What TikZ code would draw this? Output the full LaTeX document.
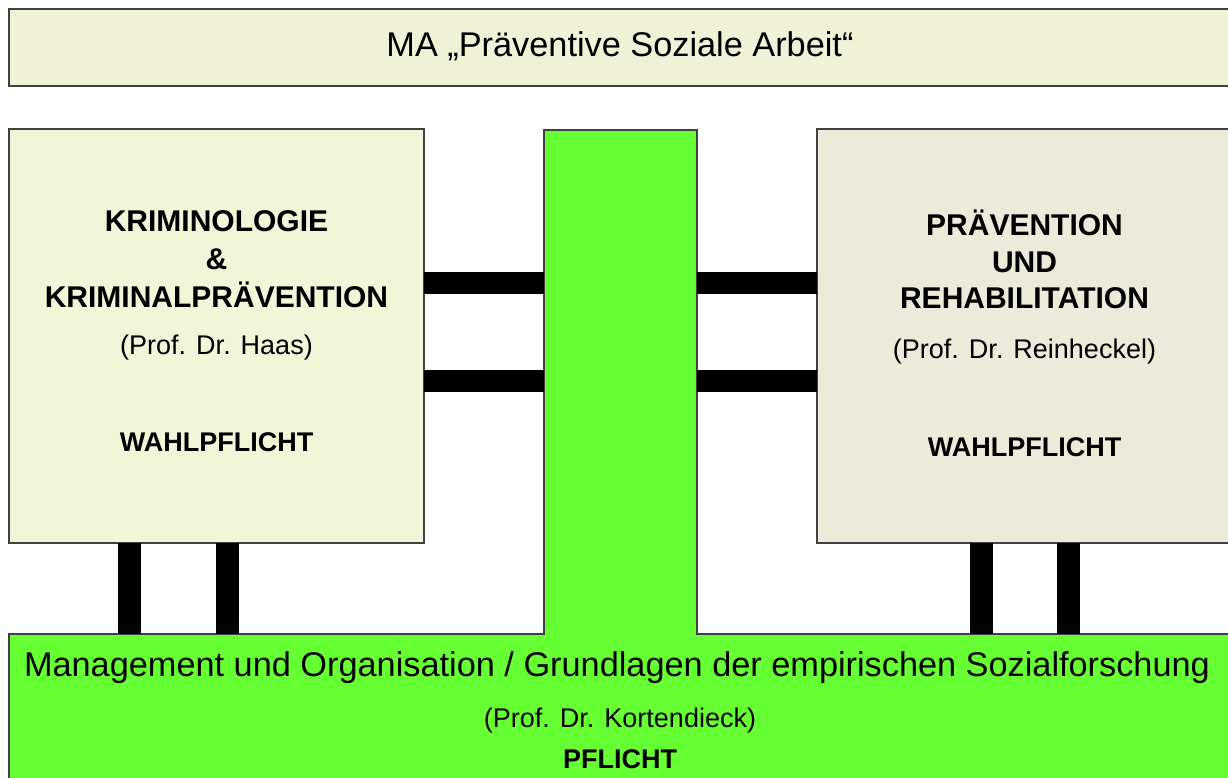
\documentclass[tikz,border=0pt]{standalone}
\usepackage{fontspec}
\setmainfont{Liberation Sans}
\definecolor{topfill}{RGB}{240,242,216}
\definecolor{leftfill}{RGB}{242,246,216}
\definecolor{rightfill}{RGB}{236,234,216}
\definecolor{grn}{RGB}{102,255,51}
\definecolor{edge}{RGB}{64,64,64}
\begin{document}
\begin{tikzpicture}[x=1pt,y=-1pt,
  box/.style={draw=edge, line width=1.3pt, inner sep=0pt, outer sep=0pt, anchor=north west},
  big/.style={anchor=base, inner sep=0pt, font=\fontsize{34.3}{40}\selectfont},
  head/.style={anchor=base, inner sep=0pt, font=\fontsize{30}{35}\selectfont\bfseries},
  small/.style={anchor=base, inner sep=0pt, font=\fontsize{27}{32}\selectfont},
  smallb/.style={anchor=base, inner sep=0pt, font=\fontsize{27}{32}\selectfont\bfseries},
  hbar/.style={line width=22pt, draw=black},
  vbar/.style={line width=23pt, draw=black}]
\useasboundingbox (0,0) rectangle (1228,778);
\clip (0,0) rectangle (1228,778);
\fill[white] (0,0) rectangle (1228,778);
% boxes
\node[box, fill=topfill, minimum width=1240, minimum height=77] (top) at (9,9) {};
\node[box, fill=leftfill, minimum width=415, minimum height=414] (kri) at (9,129) {};
\node[box, fill=rightfill, minimum width=420, minimum height=414] (pra) at (817,129) {};
\node[box, draw=none, fill=grn, minimum width=153, minimum height=504] (stem) at (544,130) {};
\node[box, draw=none, fill=grn, minimum width=1240, minimum height=160] (base) at (9,634) {};
\draw[edge, line width=1.3pt] (base.south west) -- (base.north west) -- (stem.south west)
  -- (stem.north west) -- (stem.north east) -- (stem.south east) -- (base.north east);
% connector positions
\coordinate (y1) at (0,283);
\coordinate (y2) at (0,381);
\coordinate (xa) at (129.5,0);
\coordinate (xb) at (227.5,0);
\coordinate (xc) at (981.5,0);
\coordinate (xd) at (1068.5,0);
% horizontal bars
\draw[hbar] (kri.east |- y1) -- (stem.west |- y1);
\draw[hbar] (kri.east |- y2) -- (stem.west |- y2);
\draw[hbar] (stem.east |- y1) -- (pra.west |- y1);
\draw[hbar] (stem.east |- y2) -- (pra.west |- y2);
% vertical bars
\draw[vbar] (kri.south -| xa) -- (base.north -| xa);
\draw[vbar] (kri.south -| xb) -- (base.north -| xb);
\draw[vbar] (pra.south -| xc) -- (base.north -| xc);
\draw[vbar] (pra.south -| xd) -- (base.north -| xd);
% texts
\node[big] (t0) at (620,57) {MA „Präventive Soziale Arbeit“};
\node[head] (k1) at (216.5,231) {KRIMINOLOGIE};
\node[head] (k2) at (216.5,269) {\&};
\node[head] (k3) at (216.5,307) {KRIMINALPRÄVENTION};
\node[small] (k4) at (216.5,354) {(Prof. Dr. Haas)};
\node[smallb] (k5) at (216.5,451) {WAHLPFLICHT};
\node[head] (p1) at (1024.5,235) {PRÄVENTION};
\node[head] (p2) at (1024.5,272) {UND};
\node[head] (p3) at (1024.5,308) {REHABILITATION};
\node[small] (p4) at (1024.5,358) {(Prof. Dr. Reinheckel)};
\node[smallb] (p5) at (1024.5,456) {WAHLPFLICHT};
\node[big] (b1) at (617,676) {Management und Organisation / Grundlagen der empirischen Sozialforschung};
\node[small] (b2) at (620,727) {(Prof. Dr. Kortendieck)};
\node[smallb] (b3) at (620,768) {PFLICHT};
\end{tikzpicture}
\end{document}
